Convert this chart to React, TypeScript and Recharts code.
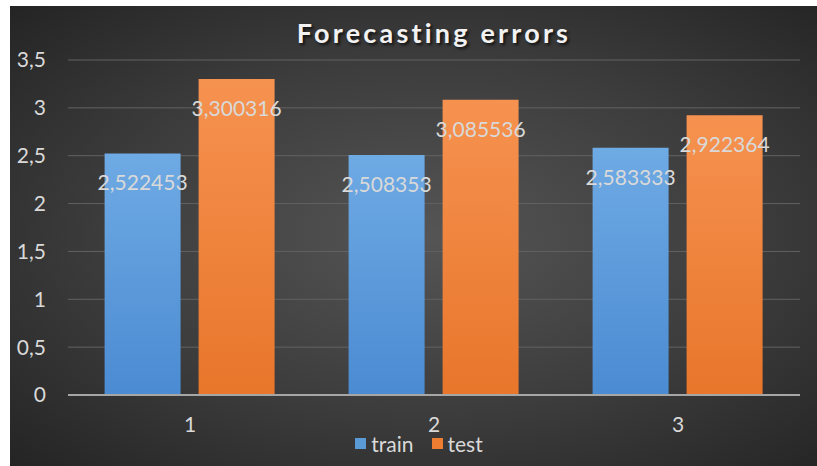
import { BarChart, Bar, XAxis, YAxis, CartesianGrid, Legend, LabelList } from 'recharts';

const categories = ['1', '2', '3'];
const train = [2.522453, 2.508353, 2.583333];
const test = [3.300316, 3.085536, 2.922364];
const yTicks = [0, 0.5, 1, 1.5, 2, 2.5, 3, 3.5];

const data = categories.map((c, i) => ({ name: c, train: train[i], test: test[i] }));

const comma = (v: number | string) => String(v).replace('.', ',');

const font = 'Lato, "Open Sans", sans-serif';

function LegendBox() {
  return (
    <div
      style={{
        display: 'flex',
        justifyContent: 'center',
        alignItems: 'center',
        gap: 18,
        color: '#d9d9d9',
        fontSize: 21,
        fontFamily: font,
        paddingLeft: 28,
        marginTop: -4,
      }}
    >
      <div style={{ display: 'flex', alignItems: 'center', gap: 5 }}>
        <span style={{ width: 11, height: 11, background: '#5b9bd5' }} />
        <span>train</span>
      </div>
      <div style={{ display: 'flex', alignItems: 'center', gap: 5 }}>
        <span style={{ width: 11, height: 11, background: '#ed7d31' }} />
        <span>test</span>
      </div>
    </div>
  );
}

export default function App() {
  return (
    <div
      style={{
        position: 'absolute',
        left: 10,
        top: 6,
        width: 807,
        height: 460,
        background: 'radial-gradient(ellipse at 52% 50%, #555555 0%, #3c3c3c 55%, #242424 100%)',
        overflow: 'hidden',
      }}
    >
      <div
        style={{
          position: 'absolute',
          left: 58,
          width: 732,
          top: 10,
          textAlign: 'center',
          color: '#f2f2f2',
          fontFamily: font,
          fontWeight: 700,
          fontSize: 27,
          letterSpacing: 3.2,
          textShadow: '2px 2px 3px rgba(0,0,0,0.7)',
        }}
      >
        Forecasting errors
      </div>
      <BarChart
        width={807}
        height={460}
        data={data}
        margin={{ top: 54, right: 17, left: 0, bottom: 7 }}
        barCategoryGap="15%"
        barGap={18}
      >
        <defs>
          <linearGradient id="gTrain" x1="0" y1="0" x2="0" y2="1">
            <stop offset="0%" stopColor="#6eaae4" />
            <stop offset="100%" stopColor="#4b8bd2" />
          </linearGradient>
          <linearGradient id="gTest" x1="0" y1="0" x2="0" y2="1">
            <stop offset="0%" stopColor="#f69250" />
            <stop offset="100%" stopColor="#e8762b" />
          </linearGradient>
        </defs>
        <CartesianGrid stroke="#626262" strokeWidth={1} vertical={false} />
        <XAxis
          dataKey="name"
          height={40}
          tickLine={false}
          axisLine={{ stroke: '#a6a6a6', strokeWidth: 2 }}
          tick={{ fill: '#d9d9d9', fontSize: 21, fontFamily: font }}
          tickMargin={16}
        />
        <YAxis
          width={58}
          domain={[0, 3.5]}
          ticks={yTicks}
          tickFormatter={comma}
          tickLine={false}
          axisLine={false}
          tick={{ fill: '#d9d9d9', fontSize: 21, fontFamily: font }}
          tickMargin={16}
        />
        <Legend verticalAlign="bottom" height={24} content={() => <LegendBox />} />
        <Bar dataKey="train" fill="url(#gTrain)" isAnimationActive={false}>
          <LabelList
            dataKey="train"
            position="insideTop"
            offset={22}
            formatter={comma}
            style={{ fill: '#d9d9d9', fontSize: 21, fontFamily: font }}
          />
        </Bar>
        <Bar dataKey="test" fill="url(#gTest)" isAnimationActive={false}>
          <LabelList
            dataKey="test"
            position="insideTop"
            offset={22}
            formatter={comma}
            style={{ fill: '#d9d9d9', fontSize: 21, fontFamily: font }}
          />
        </Bar>
      </BarChart>
    </div>
  );
}
